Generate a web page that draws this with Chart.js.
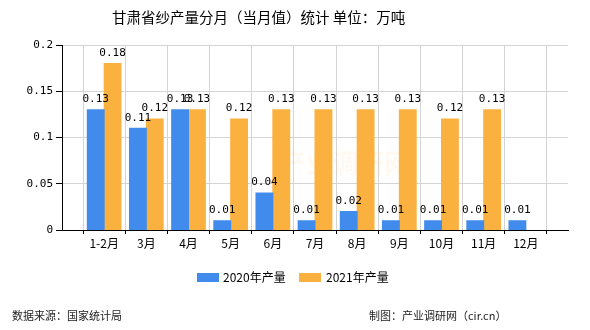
<!DOCTYPE html>
<html>
<head>
<meta charset="utf-8">
<script src="https://cdn.jsdelivr.net/npm/chart.js@4/dist/chart.umd.min.js"></script>
<style>
  html, body { margin: 0; padding: 0; background: #fff; }
  #wrap { width: 590px; height: 330px; position: relative; }
</style>
</head>
<body>
<div id="wrap"><canvas id="mycanvas" width="590" height="330"></canvas></div>
<script>
// blank slots at both ends, like the original axis
var months = ['', '1-2月', '3月', '4月', '5月', '6月', '7月', '8月', '9月', '10月', '11月', '12月', ''];
var output2020 = [null, 0.13, 0.11, 0.13, 0.01, 0.04, 0.01, 0.02, 0.01, 0.01, 0.01, 0.01, null];
var output2021 = [null, 0.18, 0.12, 0.13, 0.12, 0.13, 0.13, 0.13, 0.13, 0.12, 0.13, null, null];
var yTicks = [0, 0.05, 0.1, 0.15, 0.2];

var titleText = '甘肃省纱产量分月（当月值）统计 单位：万吨';
var sourceText = '数据来源：国家统计局';
var makerText = '制图：产业调研网（cir.cn）';

var blue = '#418bed';
var orange = '#fbb13f';
var cjk = '"Noto Sans CJK SC", "DejaVu Sans", sans-serif';
var mono = '"DejaVu Sans Mono", "Noto Sans CJK SC", monospace';

var extras = {
  id: 'extras',
  beforeDatasetsDraw: function(chart) {
    // faint watermark
    var ctx = chart.ctx;
    ctx.save();
    ctx.fillStyle = 'rgba(251, 177, 63, 0.07)';
    ctx.font = 'bold 26px ' + cjk;
    ctx.textAlign = 'center';
    ctx.textBaseline = 'middle';
    ctx.fillText('产业调研网', 345, 163);
    ctx.restore();
  },
  afterDatasetsDraw: function(chart) {
    var ctx = chart.ctx;
    ctx.save();
    ctx.font = '11px ' + mono;
    ctx.fillStyle = '#000';
    ctx.textAlign = 'center';
    ctx.textBaseline = 'bottom';
    chart.data.datasets.forEach(function(ds, i) {
      chart.getDatasetMeta(i).data.forEach(function(bar, j) {
        var v = ds.data[j];
        if (v === null) return;
        ctx.fillText(v.toFixed(2), bar.x, bar.y - 5);
      });
    });
    ctx.restore();
  },
  afterDraw: function(chart) {
    var ctx = chart.ctx;
    ctx.save();
    // title
    ctx.fillStyle = '#000';
    ctx.font = '14.5px ' + cjk;
    ctx.textAlign = 'left';
    ctx.textBaseline = 'middle';
    ctx.fillText(titleText, 112, 17);
    // legend
    ctx.font = '12px ' + cjk;
    ctx.fillStyle = blue;
    ctx.fillRect(197, 273, 22, 9);
    ctx.fillStyle = '#000';
    ctx.fillText('2020年产量', 223, 277);
    ctx.fillStyle = orange;
    ctx.fillRect(299, 273, 22, 9);
    ctx.fillStyle = '#000';
    ctx.fillText('2021年产量', 326, 277);
    // footer
    ctx.fillStyle = '#222';
    ctx.font = '11px ' + cjk;
    ctx.fillText(sourceText, 12, 316);
    ctx.fillText(makerText, 369, 316);
    ctx.restore();
  }
};

var ctx = document.getElementById('mycanvas');
var barGraph = new Chart(ctx, {
  type: 'bar',
  data: {
    labels: months,
    datasets: [
      { label: '2020年产量', data: output2020, backgroundColor: blue, borderWidth: 0 },
      { label: '2021年产量', data: output2021, backgroundColor: orange, borderWidth: 0 }
    ]
  },
  options: {
    responsive: false,
    animation: false,
    layout: { padding: { top: 45, right: 22, bottom: 70, left: 0 } },
    plugins: {
      legend: { display: false },
      title: { display: false },
      tooltip: { enabled: false }
    },
    datasets: { bar: { categoryPercentage: 0.8, barPercentage: 1.0, inflateAmount: 0.5 } },
    scales: {
      x: {
        offset: false,
        grid: { color: '#d4d4d4', tickColor: '#000', tickLength: 4 },
        border: { color: '#000' },
        ticks: { color: '#000', font: { size: 12, family: cjk }, maxRotation: 0, autoSkip: false, padding: 2 },
        afterFit: function(scale) { scale.height = 30; }
      },
      y: {
        min: 0,
        max: 0.2,
        afterBuildTicks: function(scale) {
          scale.ticks = yTicks.map(function(v) { return { value: v }; });
        },
        grid: { color: '#d4d4d4', tickColor: '#000', tickLength: 6 },
        border: { color: '#000' },
        ticks: {
          color: '#000',
          font: { size: 11, family: mono },
          padding: 3,
          callback: function(v) { return String(Math.round(v * 100) / 100); }
        },
        afterFit: function(scale) { scale.width = 62; }
      }
    }
  },
  plugins: [extras]
});
</script>
</body>
</html>
